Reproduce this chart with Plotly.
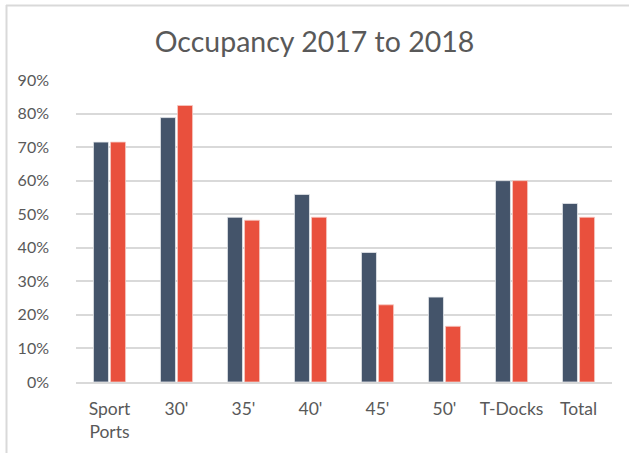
import plotly.graph_objects as go

categories = ["Sport<br>Ports", "30'", "35'", "40'", "45'", "50'", "T-Docks", "Total"]
occ_2017 = [71.5, 78.8, 49.1, 55.9, 38.6, 25.3, 60.0, 53.2]
occ_2018 = [71.5, 82.4, 48.2, 49.1, 23.0, 16.6, 60.0, 49.1]
y_ticks = [0, 10, 20, 30, 40, 50, 60, 70, 80, 90]
y_labels = [f"{v}%" for v in y_ticks]

fig = go.Figure()
fig.add_trace(go.Bar(x=categories, y=occ_2017, name="2017",
                     marker=dict(color="#44546A", line=dict(color="#E6E8EC", width=0.8))))
fig.add_trace(go.Bar(x=categories, y=occ_2018, name="2018",
                     marker=dict(color="#E9503D", line=dict(color="#F6C9C3", width=0.8))))

L, R, T, B = 76, 17, 80, 71
W, H = 629, 453
pw, ph = W - L - R, H - T - B

def px_x(p):
    return (p - L) / pw

def px_y(p):
    return (H - B - p) / ph

fig.update_layout(
    width=W, height=H,
    margin=dict(l=L, r=R, t=T, b=B, pad=0),
    paper_bgcolor="white", plot_bgcolor="white",
    barmode="group", bargap=0.49, bargroupgap=0.12,
    showlegend=False,
    font=dict(family="Lato, Noto Sans, sans-serif", color="#595959", size=16),
    title=dict(text="Occupancy 2017 to 2018", x=0.5, xanchor="center",
               y=1 - 42 / H, yanchor="middle",
               font=dict(size=28.5, color="#595959")),
    xaxis=dict(showgrid=False, showline=True, linecolor="#D9D9D9", linewidth=1.5,
               ticks="", ticklabelstandoff=10,
               tickfont=dict(size=17.5, color="#595959")),
    yaxis=dict(range=[0, 90], tickvals=y_ticks, ticktext=y_labels,
               showgrid=True, gridcolor="#D9D9D9", gridwidth=1.5,
               zeroline=False, showline=False, ticks="",
               ticklabelstandoff=26,
               tickfont=dict(size=16, color="#595959")),
    shapes=[
        dict(type="line", xref="paper", yref="paper",
             x0=px_x(6), x1=px_x(629), y0=px_y(5.5), y1=px_y(5.5),
             line=dict(color="#D9D9D9", width=2)),
        dict(type="line", xref="paper", yref="paper",
             x0=px_x(6.5), x1=px_x(6.5), y0=px_y(5), y1=px_y(453),
             line=dict(color="#D9D9D9", width=2)),
    ],
)

fig.write_html("out.html", config={"displayModeBar": False},
               post_script="document.body.style.margin='0px';")
